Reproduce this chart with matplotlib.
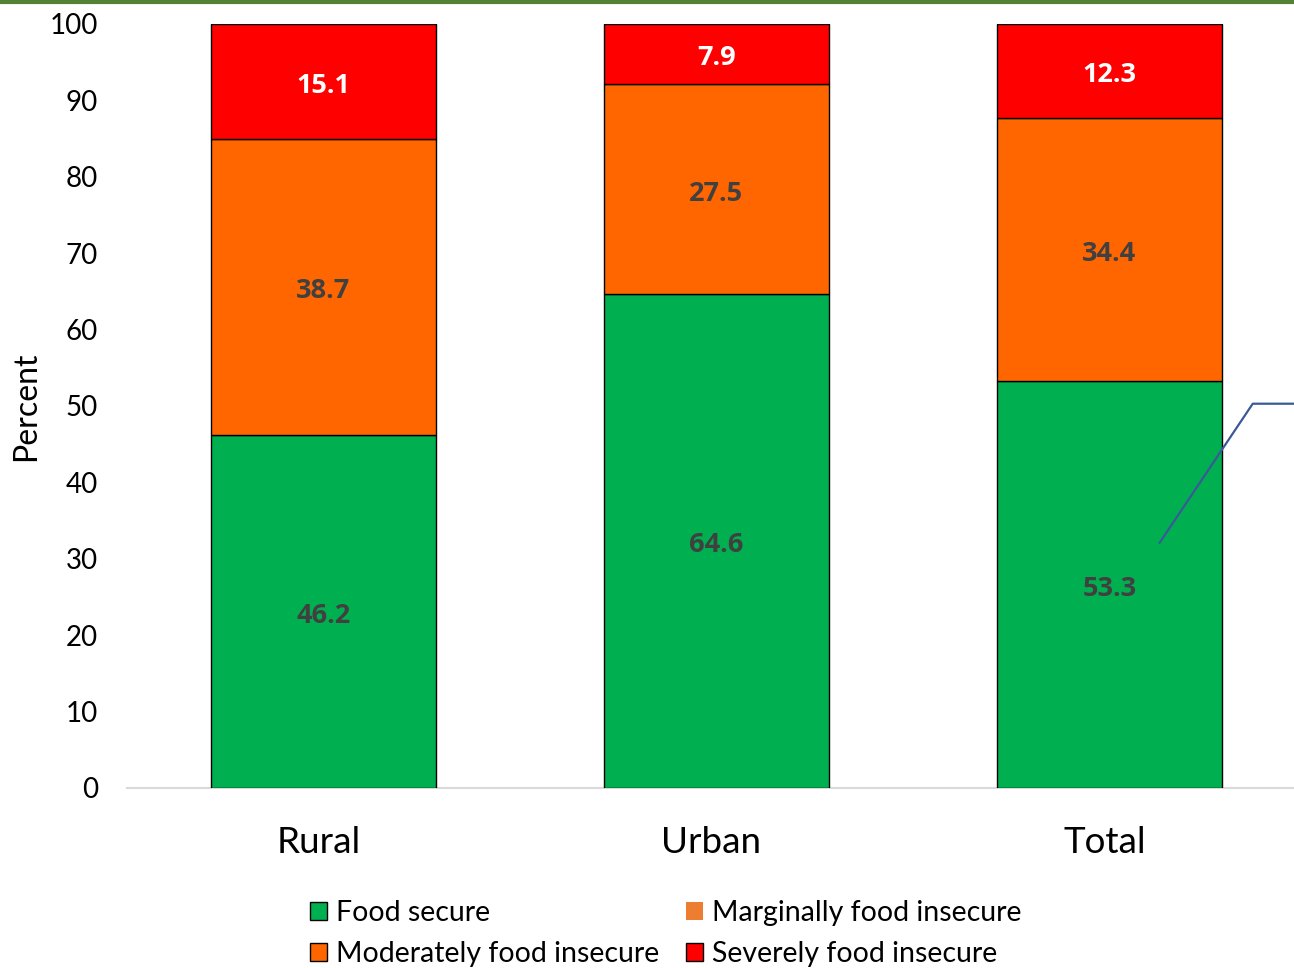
"""Stacked bar chart of household food security status by area."""

import matplotlib.pyplot as plt
import matplotlib.transforms as mtransforms
from matplotlib.lines import Line2D
from matplotlib.patches import Patch

FIG_WIDTH_PX = 1294
FIG_HEIGHT_PX = 968
DPI = 100

plt.rcParams["font.family"] = ["Lato", "DejaVu Sans"]

# Data
areas = ["Rural", "Urban", "Total"]
food_secure = [46.2, 64.6, 53.3]
moderately_insecure = [38.7, 27.5, 34.4]
severely_insecure = [15.1, 7.9, 12.3]
y_ticks = [0, 10, 20, 30, 40, 50, 60, 70, 80, 90, 100]

GREEN = "#00B050"
ORANGE = "#FF6600"
MARGINAL_ORANGE = "#ED7D31"
RED = "#FF0000"
LABEL_GRAY = "#404040"
BAR_WIDTH = 0.573

fig = plt.figure(figsize=(FIG_WIDTH_PX / DPI, FIG_HEIGHT_PX / DPI), dpi=DPI)
ax = fig.add_axes([127 / 1294, 1 - 788 / 968, 1 - 127 / 1294, (788 - 24) / 968])

x = list(range(len(areas)))
series = [
    (food_secure, GREEN, LABEL_GRAY),
    (moderately_insecure, ORANGE, LABEL_GRAY),
    (severely_insecure, RED, "white"),
]
bottoms = [0.0] * len(areas)
for values, color, text_color in series:
    ax.bar(x, values, width=BAR_WIDTH, bottom=bottoms, color=color,
           edgecolor="black", linewidth=1.0, zorder=3)
    for xi, b, v in zip(x, bottoms, values):
        ax.annotate(f"{v:.1f}", xy=(xi, b + v / 2), xytext=(0, -3),
                    textcoords="offset points", ha="center", va="center",
                    color=text_color, fontsize=19.5, fontweight="bold",
                    family=["Open Sans", "DejaVu Sans"], zorder=4)
    bottoms = [b + v for b, v in zip(bottoms, values)]

ax.set_xlim(-0.5, 2.47)
ax.set_ylim(0, 100)
ax.set_yticks(y_ticks)
ax.set_xticks(x)
ax.set_xticklabels(areas, fontsize=26.5)
ax.tick_params(axis="y", length=0, labelsize=20, pad=21)
ax.tick_params(axis="x", length=0, pad=27.5)
shift_left = mtransforms.ScaledTranslation(-5 / DPI, 0, fig.dpi_scale_trans)
for label in ax.get_xticklabels():
    label.set_transform(label.get_transform() + shift_left)
for label in ax.get_yticklabels():
    label.set_horizontalalignment("right")
ax.set_ylabel("Percent", fontsize=23)
ax.yaxis.set_label_coords(-0.074, 0.5)

for side in ("top", "right", "left"):
    ax.spines[side].set_visible(False)
ax.spines["bottom"].set_color("#D9D9D9")
ax.spines["bottom"].set_linewidth(1.5)

# Callout leader line from the Total bar
ax.plot([2.128, 2.365, 2.47], [32.1, 50.3, 50.3], color="#3B5998",
        linewidth=1.6, clip_on=False, zorder=5)

# Dark green rule across the top of the figure
fig.add_artist(Line2D([0, 1], [0.998, 0.998], transform=fig.transFigure,
                      color="#548235", linewidth=3))

handles = [
    Patch(facecolor=GREEN, edgecolor="black", linewidth=1.0),
    Patch(facecolor=ORANGE, edgecolor="black", linewidth=1.0),
    Patch(facecolor=MARGINAL_ORANGE, edgecolor="none"),
    Patch(facecolor=RED, edgecolor="black", linewidth=1.0),
]
labels = ["Food secure", "Moderately food insecure",
          "Marginally food insecure", "Severely food insecure"]
fig.legend(handles, labels, ncol=2, loc="upper left",
           bbox_to_anchor=(310 / 1294, 1 - 900 / 968), frameon=False,
           fontsize=20.5, handlelength=0.6, handleheight=0.6,
           handletextpad=0.3, columnspacing=0.95, labelspacing=0.52,
           borderpad=0, borderaxespad=0)

fig.savefig("out.png", dpi=DPI)
